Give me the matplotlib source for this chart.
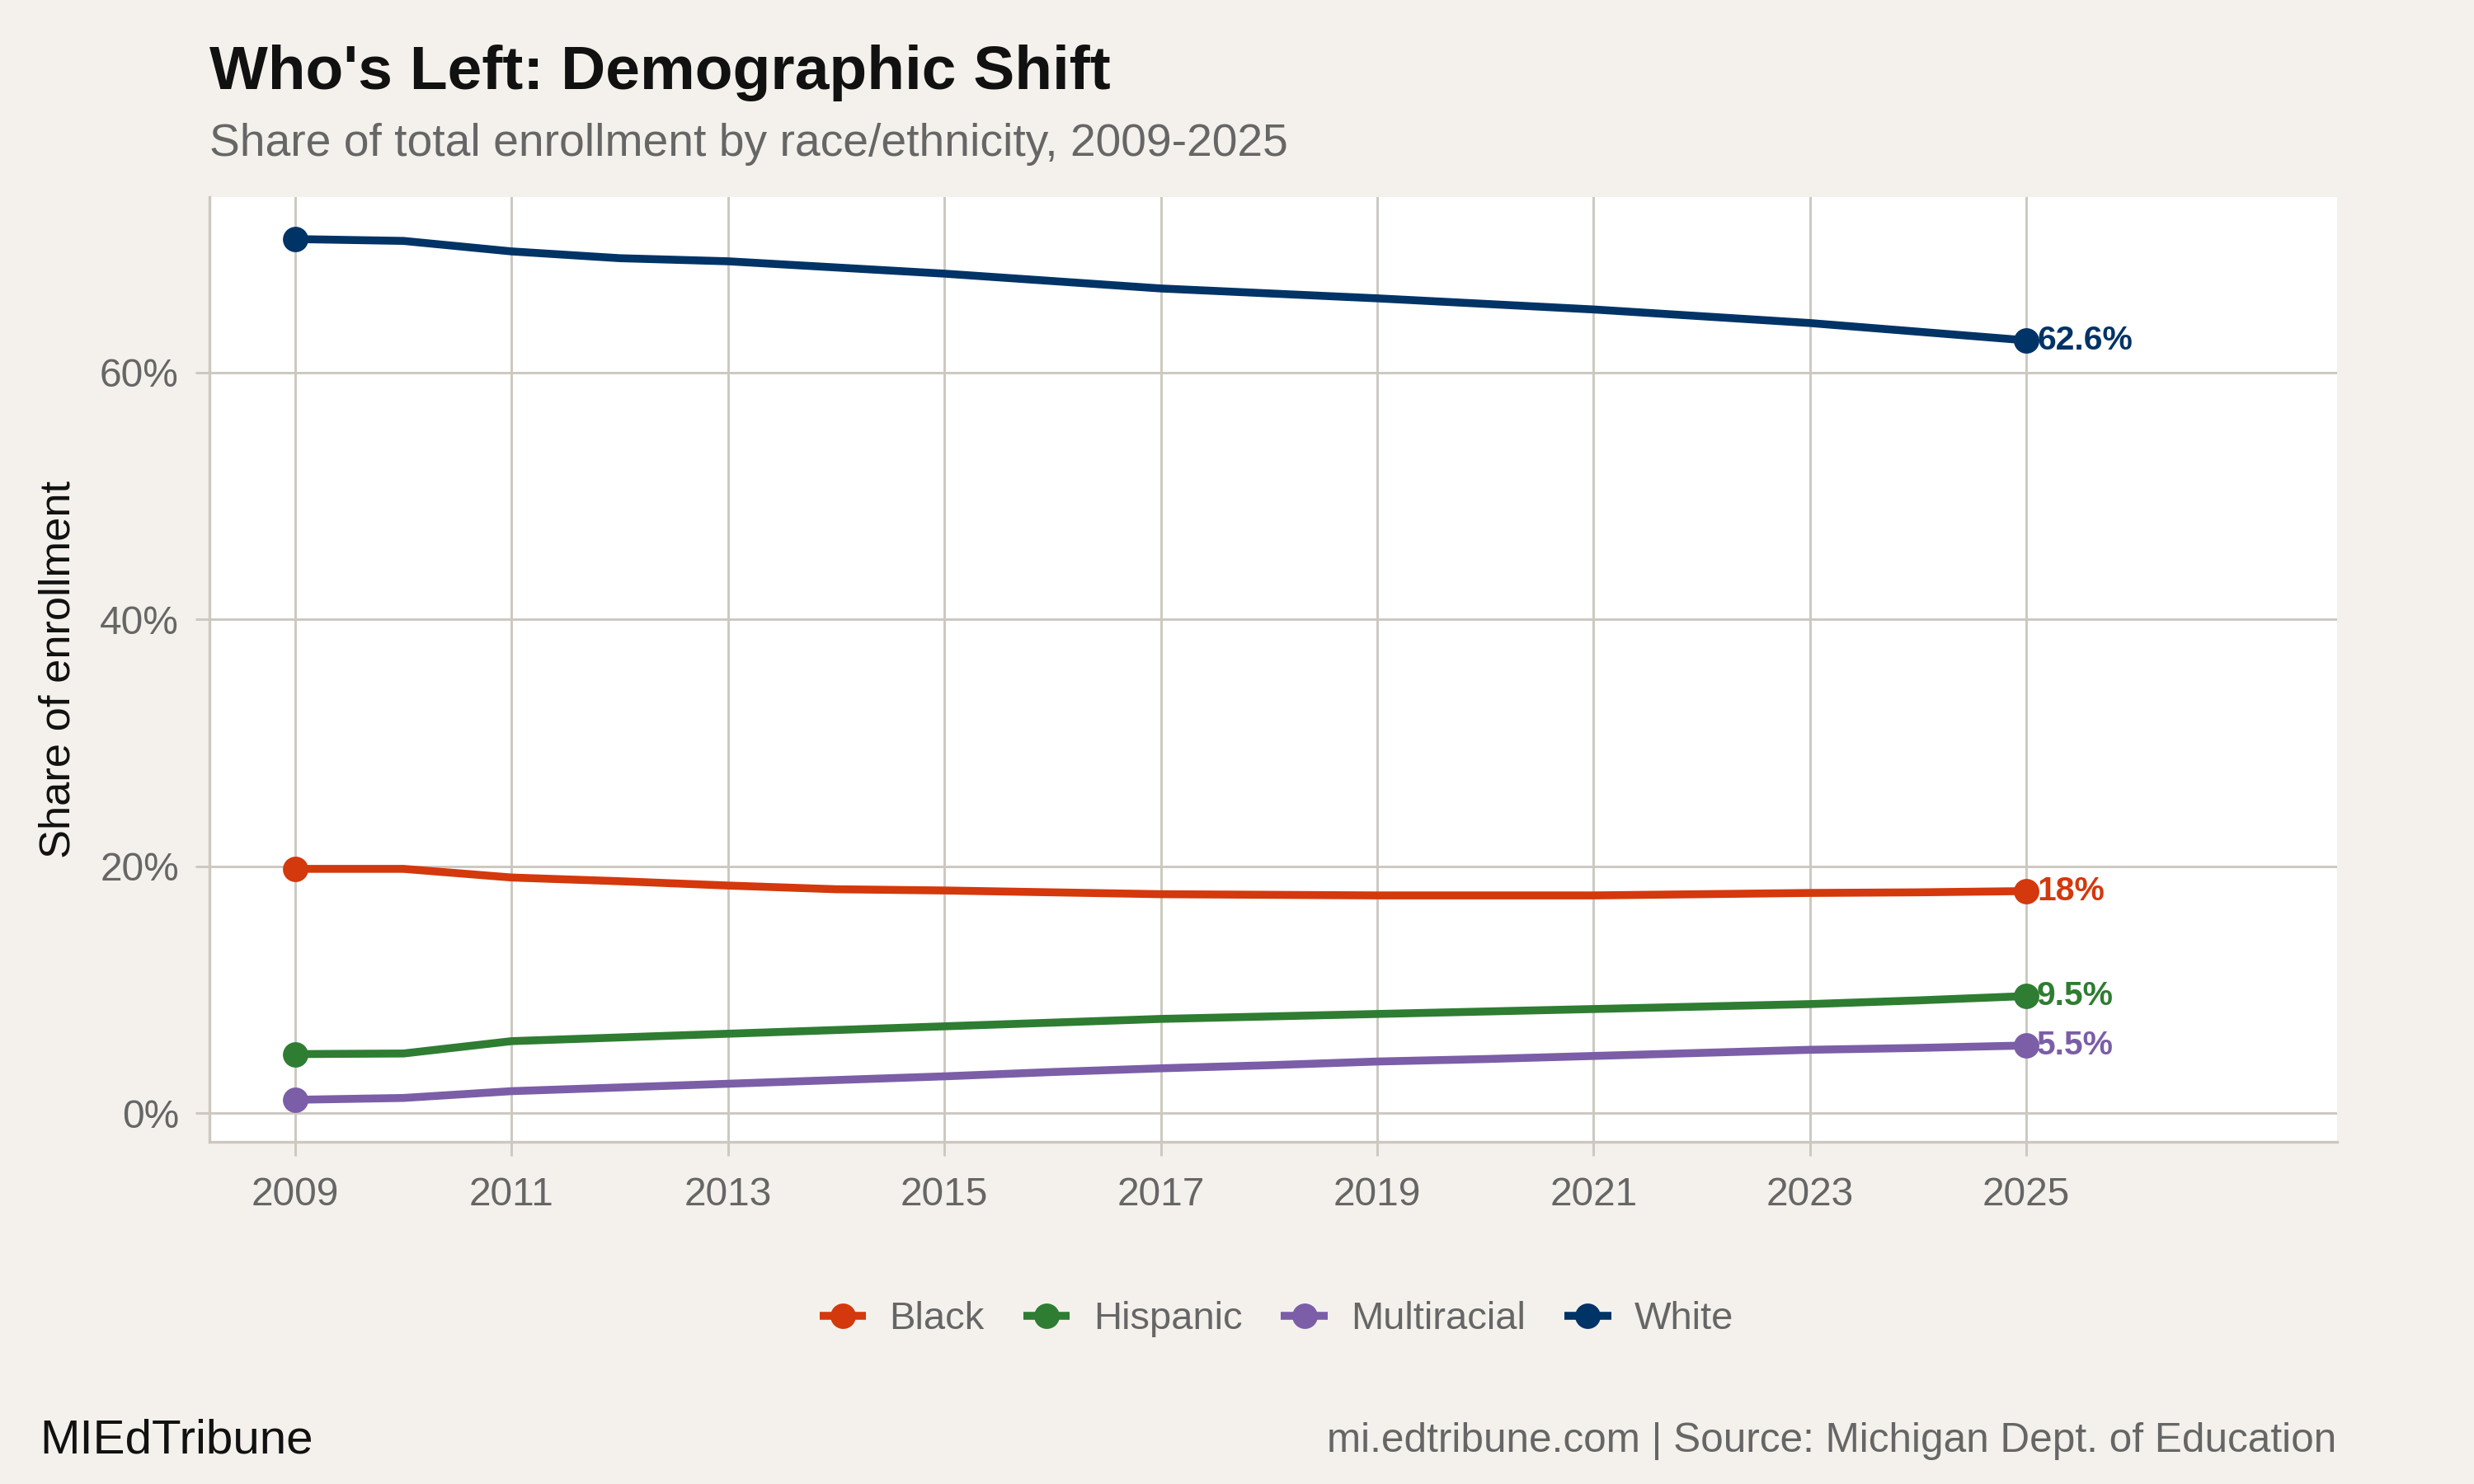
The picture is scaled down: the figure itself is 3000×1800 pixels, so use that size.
import matplotlib
matplotlib.use("Agg")
import matplotlib.pyplot as plt
from matplotlib.ticker import FuncFormatter

plt.rcParams['font.family'] = ['Liberation Sans', 'DejaVu Sans']

# data (share of enrollment, %)
years = list(range(2009, 2026))
black = [19.8, 19.8, 19.1, 18.8, 18.45, 18.15, 18.05, 17.9, 17.75, 17.7, 17.65, 17.65, 17.65, 17.75, 17.85, 17.9, 18.0]
hispanic = [4.8, 4.85, 5.85, 6.15, 6.45, 6.75, 7.05, 7.35, 7.65, 7.85, 8.05, 8.25, 8.45, 8.65, 8.85, 9.15, 9.5]
multiracial = [1.1, 1.25, 1.8, 2.1, 2.4, 2.7, 3.0, 3.35, 3.65, 3.9, 4.2, 4.4, 4.65, 4.9, 5.15, 5.3, 5.5]
white = [70.8, 70.65, 69.8, 69.25, 69.0, 68.5, 68.0, 67.4, 66.8, 66.4, 66.0, 65.55, 65.1, 64.55, 64.0, 63.3, 62.6]

series = ["Black", "Hispanic", "Multiracial", "White"]
values = [black, hispanic, multiracial, white]
end_labels = ["18%", "9.5%", "5.5%", "62.6%"]
colors = ["#D4380D", "#2E7D32", "#7B5EA7", "#003366"]

bg = "#F4F1EC"
grid_c = "#CCC8C0"
gray_txt = "#666666"

fig = plt.figure(figsize=(10, 6), dpi=300, facecolor=bg)
ax = fig.add_axes([0.0848, 0.2306, 0.8597, 0.6366])
ax.set_facecolor("white")

handles = []
for name, vals, lab, c in zip(series, values, end_labels, colors):
    h, = ax.plot(years, vals, color=c, lw=2.3, solid_capstyle='butt', zorder=3,
                 marker='o', markersize=6.4, markevery=[0, len(years) - 1], label=name)
    handles.append(h)
    ax.text(years[-1] + 0.1, vals[-1], lab, color=c, fontsize=9.8, fontweight='bold',
            va='center', ha='left', zorder=4)

ax.set_xlim(2008.21, 2027.87)
ax.set_ylim(-2.3, 74.2)
ax.set_xticks(range(2009, 2026, 2))
ax.set_yticks([0, 20, 40, 60])
ax.yaxis.set_major_formatter(FuncFormatter(lambda v, p: f"{v:.0f}%"))
ax.grid(True, color=grid_c, lw=0.7)
ax.set_axisbelow(True)
for s in ['top', 'right']:
    ax.spines[s].set_visible(False)
for s in ['left', 'bottom']:
    ax.spines[s].set_color(grid_c)
    ax.spines[s].set_linewidth(0.8)
ax.tick_params(colors=grid_c, labelcolor=gray_txt, labelsize=11.5, length=4, width=0.7)
ax.tick_params(axis='x', pad=6)
ax.tick_params(axis='y', pad=5)
ax.set_ylabel("Share of enrollment", fontsize=12.6, color="#111111")
ax.yaxis.set_label_coords(-0.0615, 0.5)

fig.text(0.0848, 0.951, "Who's Left: Demographic Shift", fontsize=18, fontweight='bold',
         color="#111111", va='center', ha='left')
fig.text(0.0848, 0.903, "Share of total enrollment by race/ethnicity, 2009-2025", fontsize=13.25,
         color=gray_txt, va='center', ha='left')

fig.legend(handles=handles, loc='center', bbox_to_anchor=(0.516, 0.111), ncol=4, frameon=False,
           fontsize=11.3, labelcolor=gray_txt, handlelength=1.2, handletextpad=0.6, columnspacing=1.0)

fig.text(0.016, 0.029, "MIEdTribune", fontsize=14, color="#111111", va='center', ha='left')
fig.text(0.9445, 0.029, "mi.edtribune.com | Source: Michigan Dept. of Education", fontsize=11.9,
         color=gray_txt, va='center', ha='right')

fig.savefig("out.png", dpi=300, facecolor=bg)
